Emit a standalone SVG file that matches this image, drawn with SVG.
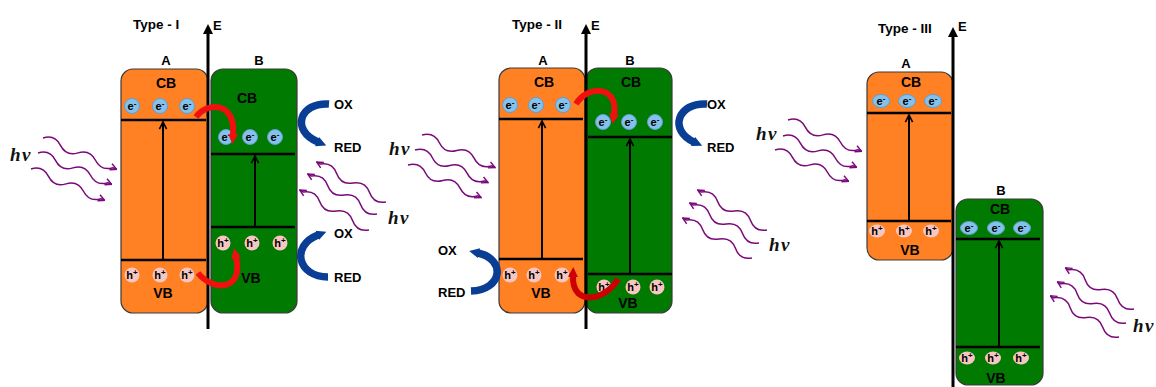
<svg xmlns="http://www.w3.org/2000/svg" width="1156" height="387" viewBox="0 0 1156 387">
<style>
.t{font-family:"Liberation Sans",Arial,sans-serif;font-weight:bold;fill:#000}
.lab{font-size:13px}
.ttl{font-size:13.5px}
.band{font-size:14px;text-anchor:middle}
.q{font-size:11px;text-anchor:middle}
.hv{font-family:"Liberation Serif","Times New Roman",serif;font-style:italic;font-weight:bold;font-size:19px;fill:#111;letter-spacing:1.5px}
.bo{fill:#FF8124;stroke:#3a3a3a;stroke-width:1.2}
.bg{fill:#007A00;stroke:#3a3a3a;stroke-width:1.2}
.lv{stroke:#000;stroke-width:2.5}
.ex{stroke:#000;stroke-width:2;fill:none;marker-end:url(#ex)}
.axis{stroke:#000;stroke-width:3;marker-end:url(#ax)}
.el{fill:#86C1EA;stroke:#5E9ED6;stroke-width:1}
.ho{fill:#F7C6C0}
.wave{fill:none;stroke:#7A0A7A;stroke-width:1.5;marker-end:url(#pa)}
.red{fill:none;stroke:#F01010;stroke-width:6;marker-end:url(#ra)}
.red2{fill:none;stroke:#CC0000;stroke-width:6;marker-end:url(#ra2)}
.blue{fill:none;stroke:#0A3E94;stroke-width:7.5;marker-end:url(#ba)}
</style>
<defs>
<marker id="ax" viewBox="0 0 10 10" refX="2" refY="5" markerWidth="12" markerHeight="10" markerUnits="userSpaceOnUse" orient="auto"><path d="M0,0 L10,5 L0,10 z" fill="#000"/></marker>
<marker id="ex" viewBox="0 0 10 10" refX="9" refY="5" markerWidth="9" markerHeight="10" markerUnits="userSpaceOnUse" orient="auto"><path d="M1,1 L9,5 L1,9" fill="none" stroke="#000" stroke-width="1.8"/></marker>
<marker id="pa" viewBox="0 0 10 10" refX="9" refY="5" markerWidth="8" markerHeight="9" markerUnits="userSpaceOnUse" orient="auto"><path d="M1,1 L9,5 L1,9" fill="none" stroke="#7A0A7A" stroke-width="1.8"/></marker>
<marker id="ra" viewBox="0 0 10 10" refX="1" refY="5" markerWidth="10" markerHeight="13" markerUnits="userSpaceOnUse" orient="auto"><path d="M0,0 L10,5 L0,10 z" fill="#F01010"/></marker>
<marker id="ra2" viewBox="0 0 10 10" refX="1" refY="5" markerWidth="10" markerHeight="13" markerUnits="userSpaceOnUse" orient="auto"><path d="M0,0 L10,5 L0,10 z" fill="#CC0000"/></marker>
<marker id="ba" viewBox="0 0 10 10" refX="1" refY="5" markerWidth="10" markerHeight="16" markerUnits="userSpaceOnUse" orient="auto"><path d="M0,0 L10,5 L0,10 z" fill="#0A3E94"/></marker>
</defs>

<!-- ===== Type I ===== -->
<g id="type1-A">
<rect class="bo" x="121" y="69" width="87" height="244" rx="12"/>
<text class="t lab" x="166" y="65" text-anchor="middle">A</text>
<text class="t band" x="166" y="88">CB</text>
<text class="t band" x="163" y="298">VB</text>
<line class="lv" x1="121" y1="120" x2="206" y2="120"/>
<line class="lv" x1="121" y1="260" x2="206" y2="260"/>
<line class="ex" x1="163" y1="259" x2="163" y2="122"/>
<circle class="el" cx="132" cy="106" r="7.5"/><circle class="el" cx="160" cy="106" r="7.5"/><circle class="el" cx="187" cy="106" r="7.5"/>
<text class="t q" x="132" y="110">e<tspan dy="-4" font-size="8">-</tspan></text>
<text class="t q" x="160" y="110">e<tspan dy="-4" font-size="8">-</tspan></text>
<text class="t q" x="187" y="110">e<tspan dy="-4" font-size="8">-</tspan></text>
<circle class="ho" cx="132" cy="275" r="7.5"/><circle class="ho" cx="160" cy="275" r="7.5"/><circle class="ho" cx="187" cy="275" r="7.5"/>
<text class="t q" x="132" y="279">h<tspan dy="-4" font-size="8">+</tspan></text>
<text class="t q" x="160" y="279">h<tspan dy="-4" font-size="8">+</tspan></text>
<text class="t q" x="187" y="279">h<tspan dy="-4" font-size="8">+</tspan></text>
</g>
<g id="type1-B">
<rect class="bg" x="211" y="69" width="86" height="244" rx="12"/>
<text class="t lab" x="259" y="65" text-anchor="middle">B</text>
<text class="t band" x="247" y="103">CB</text>
<text class="t band" x="251" y="283">VB</text>
<line class="lv" x1="211" y1="154" x2="295" y2="154"/>
<line class="lv" x1="211" y1="227" x2="295" y2="227"/>
<line class="ex" x1="255" y1="226" x2="255" y2="156"/>
<circle class="el" cx="226" cy="137" r="7.5"/><circle class="el" cx="250" cy="137" r="7.5"/><circle class="el" cx="275" cy="137" r="7.5"/>
<text class="t q" x="226" y="141">e<tspan dy="-4" font-size="8">-</tspan></text>
<text class="t q" x="250" y="141">e<tspan dy="-4" font-size="8">-</tspan></text>
<text class="t q" x="275" y="141">e<tspan dy="-4" font-size="8">-</tspan></text>
<circle class="ho" cx="223" cy="243" r="7.5"/><circle class="ho" cx="252" cy="243" r="7.5"/><circle class="ho" cx="280" cy="243" r="7.5"/>
<text class="t q" x="223" y="247">h<tspan dy="-4" font-size="8">+</tspan></text>
<text class="t q" x="252" y="247">h<tspan dy="-4" font-size="8">+</tspan></text>
<text class="t q" x="280" y="247">h<tspan dy="-4" font-size="8">+</tspan></text>
</g>
<g id="type1-axis">
<line class="axis" x1="208" y1="329" x2="208" y2="32"/>
<text class="t lab" x="213" y="30">E</text>
<text class="t ttl" x="133" y="29">Type - I</text>
</g>
<g id="type1-labels">
<text class="t lab" x="334" y="109">OX</text>
<text class="t lab" x="334" y="152">RED</text>
<text class="t lab" x="334" y="238">OX</text>
<text class="t lab" x="334" y="282">RED</text>
<text class="hv" x="10" y="161">hν</text>
<text class="hv" x="388" y="224">hν</text>
</g>

<!-- ===== Type II ===== -->
<g id="type2-A">
<rect class="bo" x="499" y="68" width="86" height="245" rx="12"/>
<text class="t lab" x="543" y="65" text-anchor="middle">A</text>
<text class="t band" x="544" y="87">CB</text>
<text class="t band" x="541" y="298">VB</text>
<line class="lv" x1="499" y1="119" x2="583" y2="119"/>
<line class="lv" x1="499" y1="259" x2="583" y2="259"/>
<line class="ex" x1="542" y1="258" x2="542" y2="121"/>
<circle class="el" cx="510" cy="105" r="7.5"/><circle class="el" cx="536" cy="105" r="7.5"/><circle class="el" cx="563" cy="105" r="7.5"/>
<text class="t q" x="510" y="109">e<tspan dy="-4" font-size="8">-</tspan></text>
<text class="t q" x="536" y="109">e<tspan dy="-4" font-size="8">-</tspan></text>
<text class="t q" x="563" y="109">e<tspan dy="-4" font-size="8">-</tspan></text>
<circle class="ho" cx="510" cy="275" r="7.5"/><circle class="ho" cx="534" cy="275" r="7.5"/><circle class="ho" cx="562" cy="275" r="7.5"/>
<text class="t q" x="510" y="279">h<tspan dy="-4" font-size="8">+</tspan></text>
<text class="t q" x="534" y="279">h<tspan dy="-4" font-size="8">+</tspan></text>
<text class="t q" x="562" y="279">h<tspan dy="-4" font-size="8">+</tspan></text>
</g>
<g id="type2-B">
<rect class="bg" x="586" y="68" width="86" height="245" rx="12"/>
<text class="t lab" x="630" y="65" text-anchor="middle">B</text>
<text class="t band" x="631" y="87">CB</text>
<text class="t band" x="628" y="308">VB</text>
<line class="lv" x1="588" y1="137" x2="672" y2="137"/>
<line class="lv" x1="588" y1="274" x2="672" y2="274"/>
<line class="ex" x1="630" y1="273" x2="630" y2="139"/>
<circle class="el" cx="603" cy="122" r="7.5"/><circle class="el" cx="629" cy="122" r="7.5"/><circle class="el" cx="655" cy="122" r="7.5"/>
<text class="t q" x="603" y="126">e<tspan dy="-4" font-size="8">-</tspan></text>
<text class="t q" x="629" y="126">e<tspan dy="-4" font-size="8">-</tspan></text>
<text class="t q" x="655" y="126">e<tspan dy="-4" font-size="8">-</tspan></text>
<circle class="ho" cx="604" cy="287" r="7.5"/><circle class="ho" cx="633" cy="287" r="7.5"/><circle class="ho" cx="657" cy="287" r="7.5"/>
<text class="t q" x="604" y="291">h<tspan dy="-4" font-size="8">+</tspan></text>
<text class="t q" x="633" y="291">h<tspan dy="-4" font-size="8">+</tspan></text>
<text class="t q" x="657" y="291">h<tspan dy="-4" font-size="8">+</tspan></text>
</g>
<g id="type2-axis">
<line class="axis" x1="586" y1="329" x2="586" y2="32"/>
<text class="t lab" x="591" y="30">E</text>
<text class="t ttl" x="512" y="29">Type - II</text>
</g>
<g id="type2-labels">
<text class="t lab" x="707" y="109">OX</text>
<text class="t lab" x="707" y="152">RED</text>
<text class="t lab" x="438" y="255">OX</text>
<text class="t lab" x="438" y="297">RED</text>
<text class="hv" x="389" y="155">hν</text>
<text class="hv" x="769" y="251">hν</text>
</g>

<!-- ===== Type III ===== -->
<g id="type3-A">
<rect class="bo" x="867" y="72" width="86" height="188" rx="12"/>
<text class="t lab" x="906" y="68" text-anchor="middle">A</text>
<text class="t band" x="911" y="87">CB</text>
<text class="t band" x="910" y="255">VB</text>
<line class="lv" x1="867" y1="113" x2="951" y2="113"/>
<line class="lv" x1="867" y1="221" x2="951" y2="221"/>
<line class="ex" x1="909" y1="220" x2="909" y2="115"/>
<ellipse class="el" cx="881" cy="101" rx="8.5" ry="6.5"/><ellipse class="el" cx="907" cy="101" rx="8.5" ry="6.5"/><ellipse class="el" cx="933" cy="101" rx="8.5" ry="6.5"/>
<text class="t q" x="881" y="105">e<tspan dy="-4" font-size="8">-</tspan></text>
<text class="t q" x="907" y="105">e<tspan dy="-4" font-size="8">-</tspan></text>
<text class="t q" x="933" y="105">e<tspan dy="-4" font-size="8">-</tspan></text>
<ellipse class="ho" cx="877" cy="231" rx="8" ry="6.5"/><ellipse class="ho" cx="904" cy="231" rx="8" ry="6.5"/><ellipse class="ho" cx="931" cy="231" rx="8" ry="6.5"/>
<text class="t q" x="877" y="235">h<tspan dy="-4" font-size="8">+</tspan></text>
<text class="t q" x="904" y="235">h<tspan dy="-4" font-size="8">+</tspan></text>
<text class="t q" x="931" y="235">h<tspan dy="-4" font-size="8">+</tspan></text>
</g>
<g id="type3-B">
<rect class="bg" x="956" y="199" width="87" height="186" rx="12"/>
<text class="t lab" x="1001" y="195" text-anchor="middle">B</text>
<text class="t band" x="1000" y="214">CB</text>
<text class="t band" x="996" y="383">VB</text>
<line class="lv" x1="956" y1="239" x2="1040" y2="239"/>
<line class="lv" x1="956" y1="347" x2="1040" y2="347"/>
<line class="ex" x1="999" y1="346" x2="999" y2="241"/>
<ellipse class="el" cx="969" cy="228" rx="8.5" ry="6.5"/><ellipse class="el" cx="996" cy="228" rx="8.5" ry="6.5"/><ellipse class="el" cx="1022" cy="228" rx="8.5" ry="6.5"/>
<text class="t q" x="969" y="232">e<tspan dy="-4" font-size="8">-</tspan></text>
<text class="t q" x="996" y="232">e<tspan dy="-4" font-size="8">-</tspan></text>
<text class="t q" x="1022" y="232">e<tspan dy="-4" font-size="8">-</tspan></text>
<ellipse class="ho" cx="967" cy="358" rx="8" ry="6.5"/><ellipse class="ho" cx="993" cy="358" rx="8" ry="6.5"/><ellipse class="ho" cx="1021" cy="358" rx="8" ry="6.5"/>
<text class="t q" x="967" y="362">h<tspan dy="-4" font-size="8">+</tspan></text>
<text class="t q" x="993" y="362">h<tspan dy="-4" font-size="8">+</tspan></text>
<text class="t q" x="1021" y="362">h<tspan dy="-4" font-size="8">+</tspan></text>
</g>
<g id="type3-axis">
<line class="axis" x1="953" y1="387" x2="953" y2="35"/>
<text class="t lab" x="958" y="31">E</text>
<text class="t ttl" x="878" y="33">Type - III</text>
</g>
<g id="type3-labels">
<text class="hv" x="756" y="140">hν</text>
<text class="hv" x="1133" y="332">hν</text>
</g>

<!-- ===== Connectors ===== -->
<g id="connectors">
<!-- charge transfer -->
<path class="red" d="M196,117 C208,101 236,102 233,135"/>
<path class="red" d="M198,273 C213,292 244,291 236,257"/>
<path class="red" d="M576,104 C588,84 619,86 614,115"/>
<path class="red2" d="M618,279 C606,300 572,308 573,276"/>
<!-- redox -->
<path class="blue" d="M329,104 C300,102 290,130 318,142"/>
<path class="blue" d="M328,277 C298,277 290,246 318,235"/>
<path class="blue" d="M707,104 C678,102 668,130 694,142"/>
<path class="blue" d="M471,291 C503,290 506,259 478,253"/>
<!-- photons -->
<path class="wave" transform="translate(43,138) rotate(23)" d="M0,0 q9.5,-8 19,0 t19,0 t19,0 t19,0 l4,0"/>
<path class="wave" transform="translate(38,153) rotate(23)" d="M0,0 q9.5,-8 19,0 t19,0 t19,0 t19,0 l4,0"/>
<path class="wave" transform="translate(31,169) rotate(23)" d="M0,0 q9.5,-8 19,0 t19,0 t19,0 t19,0 l4,0"/>
<path class="wave" transform="translate(386,202) rotate(210)" d="M0,0 q9.5,-8 19,0 t19,0 t19,0 t19,0 l4,0"/>
<path class="wave" transform="translate(377,214) rotate(210)" d="M0,0 q9.5,-8 19,0 t19,0 t19,0 t19,0 l4,0"/>
<path class="wave" transform="translate(369,230) rotate(210)" d="M0,0 q9.5,-8 19,0 t19,0 t19,0 t19,0 l4,0"/>
<path class="wave" transform="translate(422,135) rotate(24)" d="M0,0 q9.5,-8 19,0 t19,0 t19,0 t19,0 l4,0"/>
<path class="wave" transform="translate(415,150) rotate(24)" d="M0,0 q9.5,-8 19,0 t19,0 t19,0 t19,0 l4,0"/>
<path class="wave" transform="translate(408,165) rotate(24)" d="M0,0 q9.5,-8 19,0 t19,0 t19,0 t19,0 l4,0"/>
<path class="wave" transform="translate(767,230) rotate(210)" d="M0,0 q9.5,-8 19,0 t19,0 t19,0 t19,0 l4,0"/>
<path class="wave" transform="translate(759,243) rotate(210)" d="M0,0 q9.5,-8 19,0 t19,0 t19,0 t19,0 l4,0"/>
<path class="wave" transform="translate(752,258) rotate(210)" d="M0,0 q9.5,-8 19,0 t19,0 t19,0 t19,0 l4,0"/>
<path class="wave" transform="translate(788,120) rotate(23)" d="M0,0 q9.5,-8 19,0 t19,0 t19,0 t19,0 l4,0"/>
<path class="wave" transform="translate(783,136) rotate(23)" d="M0,0 q9.5,-8 19,0 t19,0 t19,0 t19,0 l4,0"/>
<path class="wave" transform="translate(775,150) rotate(23)" d="M0,0 q9.5,-8 19,0 t19,0 t19,0 t19,0 l4,0"/>
<path class="wave" transform="translate(1134,309) rotate(211)" d="M0,0 q9.5,-8 19,0 t19,0 t19,0 t19,0 l4,0"/>
<path class="wave" transform="translate(1126,323) rotate(211)" d="M0,0 q9.5,-8 19,0 t19,0 t19,0 t19,0 l4,0"/>
<path class="wave" transform="translate(1119,337) rotate(211)" d="M0,0 q9.5,-8 19,0 t19,0 t19,0 t19,0 l4,0"/>
</g>
</svg>
